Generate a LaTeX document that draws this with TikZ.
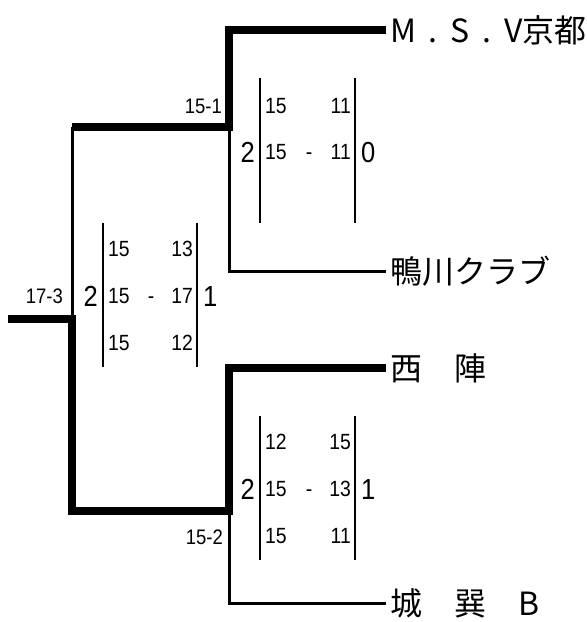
\documentclass[tikz,border=0pt]{standalone}
\usepackage{fontspec}
\setmainfont{Liberation Sans}
\newfontfamily\jpfont{Noto Sans CJK JP}
\newfontfamily\numfont[FakeStretch=0.88]{Liberation Sans}
\usetikzlibrary{positioning}

\tikzset{
  win/.style={line width=8pt},
  lose/.style={line width=3pt},
  bar/.style={line width=2.5pt},
  team/.style={anchor=west,inner xsep=4pt,inner ysep=0pt,font=\jpfont\fontsize{32}{32}\selectfont},
  game/.style={inner sep=0pt,text height=15.5pt,text depth=0pt,font=\numfont\fontsize{22}{22}\selectfont},
  sets/.style={inner sep=0pt,text height=20.5pt,text depth=0pt,font=\numfont\fontsize{29}{29}\selectfont},
  pts/.style={anchor=east,inner sep=0pt,text height=15pt,text depth=0pt,font=\numfont\fontsize{21}{21}\selectfont},
}

\begin{document}
\begin{tikzpicture}[x=1pt,y=-1pt]
    \useasboundingbox (0,0) rectangle (587,622);

    \node[team]  (msv)   at (386,30)  {M\hspace{0.4em}.\hspace{0.4em}S\hspace{0.4em}.\hspace{0.4em}V京都};
    \node[team]  (kamo)  at (386,271) {鴨川クラブ};
    \node[team]  (nishi) at (386,368) {西　陣};
    \node[team]  (joso)  at (386,603) {城　巽　B};

    \coordinate (s1)   at (229,127);
    \coordinate (s2)   at (229,511);
    \coordinate (fin)  at (72,319);
    \coordinate (root) at (8,319);

    \draw[win]  (msv.west) -| (s1) -- (s1 -| fin);
    \draw[lose] (kamo.west) -| (s1);
    \draw[lose] (s1 -| fin) -- (fin);
    \draw[win]  (nishi.west) -| (s2) -- (s2 -| fin) -- (fin) -- (root);
    \draw[lose] (joso.west) -| (s2);

    \node[pts] (p1) at (222,106) {15-1};
    \node[pts] (p2) at (63,296)  {17-3};
    \node[pts] (p3) at (223,537) {15-2};

    % semifinal 1
    \coordinate (a1) at (260,78);  \coordinate (a2) at (260,223);
    \coordinate (a3) at (355,78);  \coordinate (a4) at (355,223);
    \draw[bar] (a1) -- (a2);
    \draw[bar] (a3) -- (a4);
    \node[sets,anchor=east] (aL)  at (255,152) {2};
    \node[sets,anchor=west] (aR)  at (361,152) {0};
    \node[game,anchor=west] (a11) at (265,106) {15};
    \node[game,anchor=east] (a12) at (351,106) {11};
    \node[game,anchor=west] (a21) at (265,152) {15};
    \node[game]             (a2d) at (309,152) {-};
    \node[game,anchor=east] (a22) at (351,152) {11};

    % final
    \coordinate (b1) at (103,223);  \coordinate (b2) at (103,367);
    \coordinate (b3) at (197,223);  \coordinate (b4) at (197,367);
    \draw[bar] (b1) -- (b2);
    \draw[bar] (b3) -- (b4);
    \node[sets,anchor=east] (bL)  at (98,296)  {2};
    \node[sets,anchor=west] (bR)  at (203,296) {1};
    \node[game,anchor=west] (b11) at (108,249) {15};
    \node[game,anchor=east] (b12) at (193,249) {13};
    \node[game,anchor=west] (b21) at (108,296) {15};
    \node[game]             (b2d) at (151,296) {-};
    \node[game,anchor=east] (b22) at (193,296) {17};
    \node[game,anchor=west] (b31) at (108,343) {15};
    \node[game,anchor=east] (b32) at (193,343) {12};

    % semifinal 2
    \coordinate (c1) at (260,416);  \coordinate (c2) at (260,560);
    \coordinate (c3) at (355,416);  \coordinate (c4) at (355,560);
    \draw[bar] (c1) -- (c2);
    \draw[bar] (c3) -- (c4);
    \node[sets,anchor=east] (cL)  at (255,489) {2};
    \node[sets,anchor=west] (cR)  at (361,489) {1};
    \node[game,anchor=west] (c11) at (265,442) {12};
    \node[game,anchor=east] (c12) at (351,442) {15};
    \node[game,anchor=west] (c21) at (265,489) {15};
    \node[game]             (c2d) at (309,489) {-};
    \node[game,anchor=east] (c22) at (351,489) {13};
    \node[game,anchor=west] (c31) at (265,536) {15};
    \node[game,anchor=east] (c32) at (351,536) {11};
\end{tikzpicture}
\end{document}
